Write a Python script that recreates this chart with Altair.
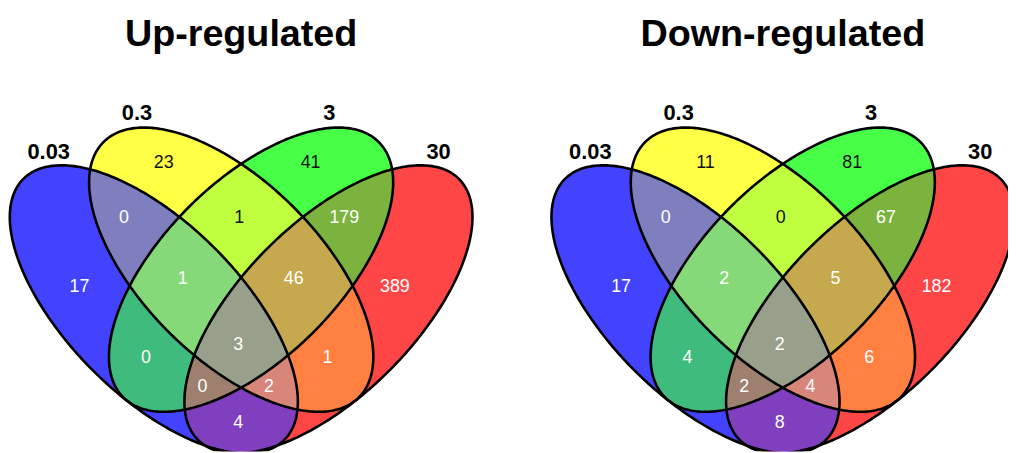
import math
import altair as alt
import pandas as pd

alt.data_transformers.disable_max_rows()

# ---------------- data ----------------
set_names = ["0.03", "0.3", "3", "30"]
panel_titles = ["Up-regulated", "Down-regulated"]
# region membership over the sets (0.03, 0.3, 3, 30)
regions = ["1000", "0100", "0010", "0001",
           "1100", "0110", "0011", "1010", "0101", "1001",
           "1110", "0111", "1011", "1101", "1111"]
up_counts = [17, 23, 41, 389, 0, 1, 179, 0, 1, 4, 1, 46, 0, 2, 3]
down_counts = [17, 11, 81, 182, 0, 0, 67, 4, 6, 8, 2, 5, 2, 4, 2]

# ---------------- styles / layout ----------------
region_fill = {
    "1000": "#4242ff", "0100": "#ffff45", "0010": "#47ff47", "0001": "#ff4646",
    "1100": "#7f7fbf", "0110": "#bfff40", "0011": "#7bb33e", "1010": "#3fbb7e",
    "0101": "#ff8040", "1001": "#7f3fbf",
    "1110": "#86d978", "0111": "#c6a84f", "1011": "#9e806e", "1101": "#d8857a",
    "1111": "#98a08c",
}
dark_text = {"0100", "0010", "0110"}
# label anchor of each region (panel layout units)
label_pos = {
    "1000": (72, 279), "0100": (157, 155), "0010": (305, 155), "0001": (390, 279),
    "1100": (117, 210), "0110": (233, 210), "0011": (339, 210), "1010": (139, 351),
    "0101": (322, 351), "1001": (232, 417),
    "1110": (176, 271), "0111": (288, 271), "1011": (196, 380), "1101": (263, 380),
    "1111": (232, 338),
}
set_label_pos = [(41, 150), (130, 111), (324, 111), (434, 150)]
title_pos = (235, 37)

# ellipse geometry: centre x, centre y, semi-major, semi-minor, angle (deg)
ellipses = [
    (147.0, 302.0, 186.0, 87.0, 45.0),   # 0.03
    (225.0, 262.0, 182.0, 89.0, 45.0),   # 0.3
    (245.0, 262.0, 182.0, 89.0, 135.0),  # 3
    (323.0, 302.0, 186.0, 87.0, 135.0),  # 30
]
PANEL_W = [546, 462]
PANEL_H = 445


def ell_interval(e, x):
    cx, cy, a, b, deg = e
    th = math.radians(deg)
    c, s = math.cos(th), math.sin(th)
    dx = x - cx
    A = s * s / (a * a) + c * c / (b * b)
    B = 2 * dx * c * s * (1 / (a * a) - 1 / (b * b))
    C = dx * dx * (c * c / (a * a) + s * s / (b * b)) - 1
    disc = B * B - 4 * A * C
    if disc < 0:
        return None
    r = math.sqrt(disc)
    return (cy + (-B - r) / (2 * A), cy + (-B + r) / (2 * A))


def reg_interval(members, x):
    lo, hi = -1e9, 1e9
    for e in members:
        iv = ell_interval(e, x)
        if iv is None:
            return None
        lo, hi = max(lo, iv[0]), min(hi, iv[1])
    if hi < lo:
        return None
    return lo, hi


def region_rows(key):
    members = [ellipses[i] for i, ch in enumerate(key) if ch == "1"]
    rows = []
    step = 0.5
    xs = [i * step for i in range(int(600 / step) + 1)]
    prev_x, prev_in = None, False
    for x in xs:
        iv = reg_interval(members, x)
        now_in = iv is not None
        if prev_x is not None and now_in != prev_in:
            out_x, in_x = (prev_x, x) if now_in else (x, prev_x)
            for _ in range(40):
                mid = (out_x + in_x) / 2
                if reg_interval(members, mid) is None:
                    out_x = mid
                else:
                    in_x = mid
            rows.append((in_x, reg_interval(members, in_x)))
        if now_in:
            rows.append((x, iv))
        prev_x, prev_in = x, now_in
    rows.sort(key=lambda r: r[0])
    return [{"x": round(px, 3), "y": round(iv[0], 3), "y2": round(iv[1], 3),
             "key": key, "fill": region_fill[key]} for px, iv in rows]


level_frames = {}
for lvl in range(1, 5):
    recs = []
    for key in regions:
        if key.count("1") == lvl:
            recs.extend(region_rows(key))
    level_frames[lvl] = pd.DataFrame(recs)

outline_recs = []
for si, (cx, cy, a, b, deg) in enumerate(ellipses):
    th = math.radians(deg)
    c, s = math.cos(th), math.sin(th)
    for k in range(361):
        t = math.radians(k)
        outline_recs.append({
            "x": cx + a * math.cos(t) * c - b * math.sin(t) * s,
            "y": cy + a * math.cos(t) * s + b * math.sin(t) * c,
            "set": set_names[si], "i": k})
outline_df = pd.DataFrame(outline_recs)


def panel(counts, title, width):
    xs = alt.X("x:Q", scale=alt.Scale(domain=[0, width], nice=False, zero=False), axis=None)
    ys = alt.Y("y:Q", scale=alt.Scale(domain=[0, PANEL_H], nice=False, zero=False, reverse=True),
               axis=None, stack=None)
    layers = []
    for lvl in range(1, 5):
        layers.append(
            alt.Chart(level_frames[lvl]).mark_area(clip=True, opacity=1, interpolate="linear").encode(
                x=xs, y=ys, y2="y2:Q", detail="key:N",
                color=alt.Color("fill:N", scale=None))
        )
    layers.append(
        alt.Chart(outline_df).mark_line(clip=True, color="black", strokeWidth=2.6,
                                        strokeJoin="round", strokeCap="round").encode(
            x=xs, y=ys, detail="set:N", order="i:Q")
    )
    cnt_df = pd.DataFrame({
        "x": [label_pos[k][0] for k in regions],
        "y": [label_pos[k][1] for k in regions],
        "label": [str(v) for v in counts],
        "tc": ["#111111" if k in dark_text else "white" for k in regions],
    })
    layers.append(
        alt.Chart(cnt_df).mark_text(font="Liberation Sans", fontSize=18, baseline="middle",
                                    align="center").encode(
            x=xs, y=ys, text="label:N", color=alt.Color("tc:N", scale=None))
    )
    set_df = pd.DataFrame({
        "x": [p[0] for p in set_label_pos],
        "y": [p[1] for p in set_label_pos],
        "label": set_names,
    })
    layers.append(
        alt.Chart(set_df).mark_text(font="Liberation Sans", fontSize=22, fontWeight="bold",
                                    baseline="alphabetic", align="center", color="black").encode(
            x=xs, y=ys, text="label:N")
    )
    t_df = pd.DataFrame({"x": [title_pos[0]], "y": [title_pos[1]], "label": [title]})
    layers.append(
        alt.Chart(t_df).mark_text(font="Liberation Sans", fontSize=38, fontWeight="bold",
                                  baseline="alphabetic", align="center", color="black").encode(
            x=xs, y=ys, text="label:N")
    )
    return alt.layer(*layers).properties(width=width, height=PANEL_H)


chart = alt.hconcat(
    panel(up_counts, panel_titles[0], PANEL_W[0]),
    panel(down_counts, panel_titles[1], PANEL_W[1]),
    spacing=0,
).properties(padding=0, background="white").configure_view(stroke=None)

chart.save("out.html", embed_options={"renderer": "svg", "actions": False})
